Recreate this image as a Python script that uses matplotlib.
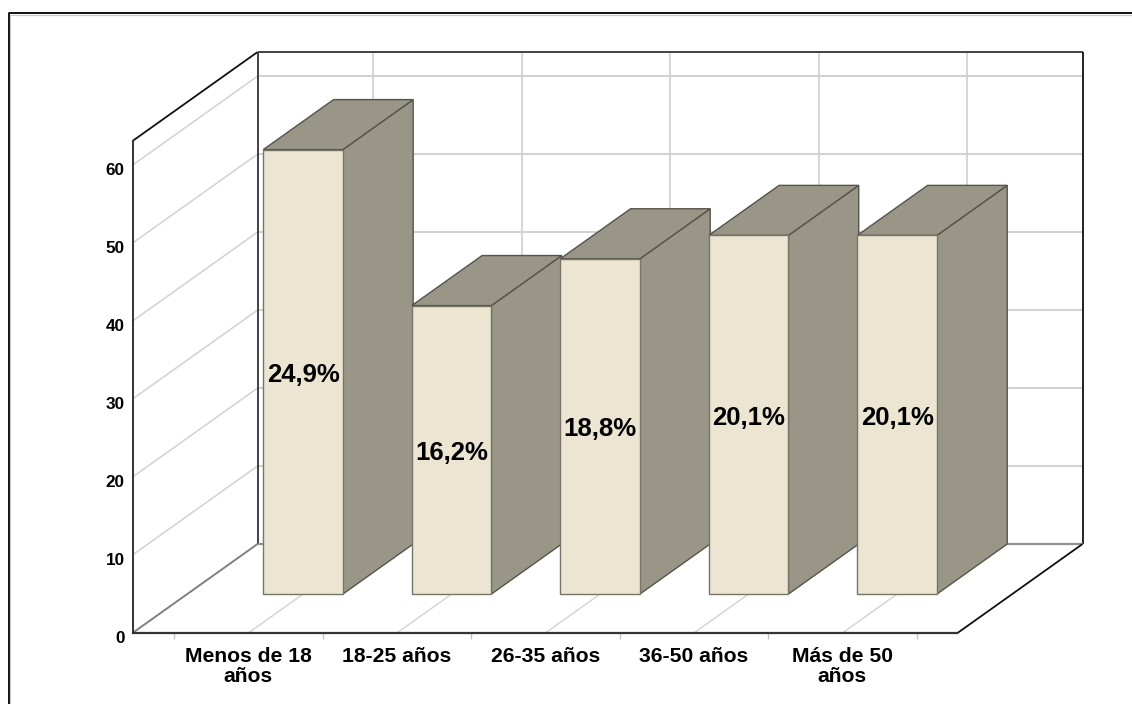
import matplotlib
matplotlib.use("Agg")
import matplotlib.pyplot as plt
from matplotlib.lines import Line2D
from matplotlib.patches import Polygon
from matplotlib.transforms import ScaledTranslation

categories = ["Menos de 18\naños", "18-25 años", "26-35 años", "36-50 años", "Más de 50\naños"]
counts = [57, 37, 43, 46, 46]
value_ticks = [0, 10, 20, 30, 40, 50, 60]

W, H, DPI = 1132, 704, 100
FONT = "Liberation Sans"
FACE = "#ebe5d1"
SHADE = "#9a9687"
EDGE = "#55534a"
GRID = "#d2d2d2"
DARK = "#333333"

# Axis ranges of the front plane of the box
X_MIN, X_MAX = -0.78, 4.775
Y_MAX = 63.1
# Shift of the full box depth, expressed in category and value units
DEPTH_X = 125 / 148.5
DEPTH_Y = 89 / 7.8
BAR_HALF = 0.268
BAR_FRONT = 0.438


def at(x, y, d=0.0):
    """Oblique projection of (category, value, depth) on the axes plane."""
    return (x + d * DEPTH_X, y + d * DEPTH_Y)


def seg(ax, p, q, color, lw, z=1):
    xs, ys = zip(p, q)
    ax.add_line(Line2D(xs, ys, color=color, lw=lw, clip_on=False, zorder=z,
                       solid_capstyle="butt"))


fig = plt.figure(figsize=(W / DPI, H / DPI), dpi=DPI, facecolor="white")
ax = fig.add_axes([132.5 / W, (H - 633) / H, (957.5 - 132.5) / W, (633 - 141) / H])
ax.set_xlim(X_MIN, X_MAX)
ax.set_ylim(0, Y_MAX)
ax.patch.set_visible(False)

# Outer frame of the chart area
fig.add_artist(Line2D([8.5 / W, 8.5 / W, 1], [0, (H - 13) / H, (H - 13) / H],
                      transform=fig.transFigure, color="black", lw=1.3))
fig.add_artist(Line2D([10 / W, 10 / W, 1], [0, (H - 14.5) / H, (H - 14.5) / H],
                      transform=fig.transFigure, color="#c8c8c8", lw=0.8))

# Gridlines on the side wall and back wall
for v in value_ticks[1:]:
    seg(ax, at(X_MIN, v, 0), at(X_MIN, v, 1), GRID, 1.1)
    seg(ax, at(X_MIN, v, 1), at(X_MAX, v, 1), GRID, 1.5)
for i in range(len(categories)):
    seg(ax, at(i, 0, 0), at(i, 0, 1), GRID, 1.0)
    seg(ax, at(i, 0, 1), at(i, Y_MAX, 1), GRID, 1.3)

# Box outline
seg(ax, at(X_MIN, Y_MAX, 0), at(X_MIN, Y_MAX, 1), "#111111", 1.3, 2)
seg(ax, at(X_MIN, Y_MAX, 1), at(X_MAX, Y_MAX, 1), DARK, 1.3, 2)
seg(ax, at(X_MIN, 0, 1), at(X_MIN, Y_MAX, 1), DARK, 1.3, 2)
seg(ax, at(X_MAX, 0, 1), at(X_MAX, Y_MAX, 1), "#111111", 1.3, 2)
seg(ax, at(X_MIN, 0, 0), at(X_MIN, 0, 1), "#808080", 1.4, 2)
seg(ax, at(X_MIN, 0, 1), at(X_MAX, 0, 1), "#909090", 1.6, 2)
seg(ax, at(X_MAX, 0, 0), at(X_MAX, 0, 1), "#111111", 1.3, 2)

# Bars, left to right so each one covers the side of the previous one
total = sum(counts)
label_drop = ScaledTranslation(0, -3 / DPI, fig.dpi_scale_trans)
for i, c in enumerate(counts):
    l, r = i - BAR_HALF, i + BAR_HALF
    z = 3 + i
    front = [at(l, 0, BAR_FRONT), at(r, 0, BAR_FRONT), at(r, c, BAR_FRONT), at(l, c, BAR_FRONT)]
    side = [at(r, 0, BAR_FRONT), at(r, 0, 1), at(r, c, 1), at(r, c, BAR_FRONT)]
    top = [at(l, c, BAR_FRONT), at(r, c, BAR_FRONT), at(r, c, 1), at(l, c, 1)]
    for pts, col, ec in ((side, SHADE, EDGE), (top, SHADE, EDGE), (front, FACE, "#77756a")):
        ax.add_patch(Polygon(pts, closed=True, facecolor=col, edgecolor=ec, lw=1.0,
                             clip_on=False, zorder=z, joinstyle="miter"))
    tx, ty = at(i, c / 2, BAR_FRONT)
    ax.text(tx, ty, f"{100 * c / total:.1f}%".replace(".", ","), ha="center", va="center",
            family=FONT, fontweight="bold", fontsize=18.5, color="black", zorder=20,
            transform=ax.transData + label_drop)

# Front axes: real ticks and spines
for name in ("top", "right"):
    ax.spines[name].set_visible(False)
ax.spines["left"].set_color(DARK)
ax.spines["left"].set_linewidth(1.4)
ax.spines["bottom"].set_color(DARK)
ax.spines["bottom"].set_linewidth(1.6)
ax.set_yticks(value_ticks)
ax.set_yticklabels([str(v) for v in value_ticks], family=FONT, fontweight="bold", fontsize=12.3)
ax.tick_params(axis="y", length=0, pad=5.5)
shift = ScaledTranslation(0, -4 / DPI, fig.dpi_scale_trans)
for lbl in ax.get_yticklabels():
    lbl.set_transform(lbl.get_transform() + shift)

ax.set_xticks(range(len(categories)))
ax.set_xticklabels(categories, family=FONT, fontweight="bold", fontsize=15.2,
                   linespacing=1.1, ha="center")
ax.set_xticks([i - 0.5 for i in range(len(categories) + 1)], minor=True)
ax.tick_params(axis="x", which="major", length=0, pad=10)
ax.tick_params(axis="x", which="minor", length=4.5, width=1.0, color="#c4c4c4")

fig.savefig("out.png", dpi=DPI)
